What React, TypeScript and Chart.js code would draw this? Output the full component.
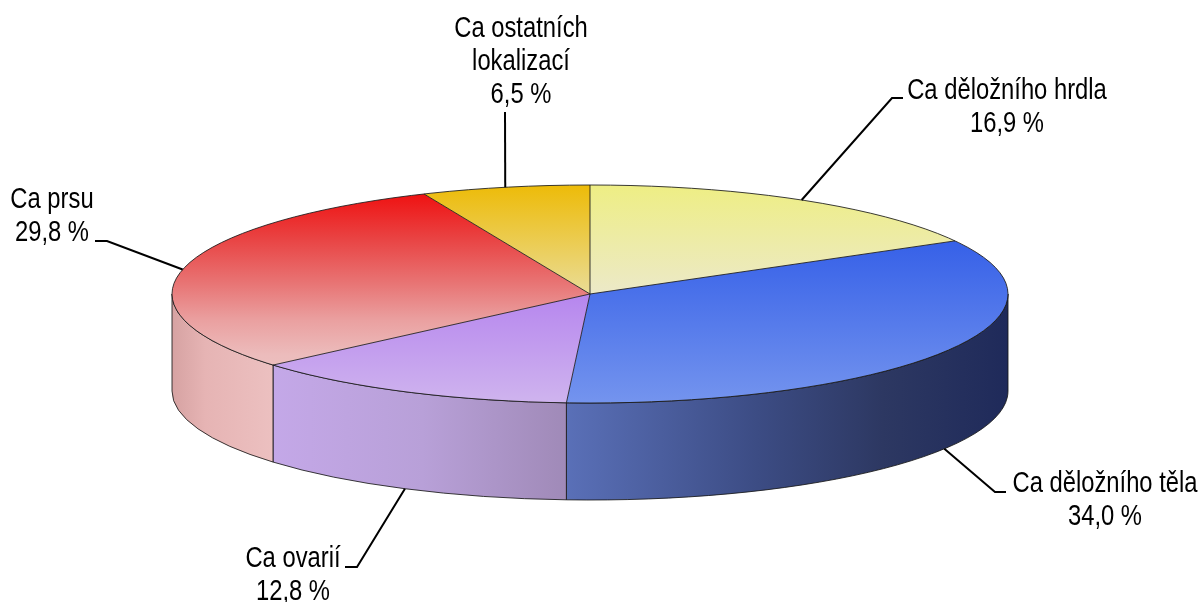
import React, { useEffect, useRef } from "react";
import { Chart, registerables } from "chart.js";

Chart.register(...registerables);

// ---- data ----
const categories = [
  "Ca děložního hrdla",
  "Ca děložního těla",
  "Ca ovarií",
  "Ca prsu",
  "Ca ostatních lokalizací",
];
const categoryLines = [
  ["Ca děložního hrdla"],
  ["Ca děložního těla"],
  ["Ca ovarií"],
  ["Ca prsu"],
  ["Ca ostatních", "lokalizací"],
];
const values = [16.9, 34.0, 12.8, 29.8, 6.5];

// ---- styles ----
const topStops: [number, string][][] = [
  [[0, "#eeee84"], [0.5, "#ece9c8"], [1, "#ece8d6"]],
  [[0, "#2a54e8"], [0.28, "#3862e8"], [1, "#7494ee"]],
  [[0, "#a468ee"], [0.5, "#b686ee"], [1, "#cfb4ee"]],
  [[0, "#f00808"], [0.25, "#e94444"], [0.45, "#e87474"], [0.62, "#eaa0a0"], [0.78, "#ecbcbc"], [1, "#ecc4c4"]],
  [[0, "#edbb08"], [0.5, "#eadc96"], [1, "#eae4b8"]],
];
const wallStops: [number, string][][] = [
  [[0, "#e8e4b0"], [1, "#a8a470"]],
  [[0, "#8090e0"], [0.47, "#5a70b8"], [0.7, "#3c4c84"], [0.85, "#2d3862"], [1, "#1f2a5a"]],
  [[0, "#c8aef0"], [0.12, "#c4a8e8"], [0.3, "#b8a0d8"], [0.47, "#a08ab8"], [1, "#806898"]],
  [[0, "#d6a2a2"], [0.04, "#e6b4b4"], [0.12, "#ecc0c0"], [1, "#ecc0c0"]],
  [[0, "#eadc96"], [1, "#b0a060"]],
];
const labelLayout = [
  { elbow: [892, 98], end: [903, 98], textX: 1007, baseline: 99 },
  { elbow: [995, 492], end: [1006, 492], textX: 1105, baseline: 492 },
  { elbow: [357, 567], end: [345, 567], textX: 293, baseline: 567 },
  { elbow: [107, 241], end: [95, 241], textX: 52, baseline: 208 },
  { elbow: null as number[] | null, end: [505, 112], textX: 521, baseline: 37 },
];

const CX = 590;
const CY = 294;
const RX = 418;
const RY = 109;
const DEPTH = 97;
const FONT_SIZE = 29;
const LINE_H = 33;
const OUTLINE = "rgba(25,25,25,0.85)";

function fmt(v: number) {
  return v.toFixed(1).replace(".", ",") + " %";
}

function narrowAvailable(ctx: CanvasRenderingContext2D) {
  ctx.font = '40px "Liberation Sans Narrow", monospace';
  const w1 = ctx.measureText("abcdefghijklm").width;
  ctx.font = "40px monospace";
  const w2 = ctx.measureText("abcdefghijklm").width;
  return Math.abs(w1 - w2) > 0.5;
}

const pie3d = {
  id: "pie3d",
  beforeDatasetsDraw(chart: any) {
    const ctx: CanvasRenderingContext2D = chart.ctx;
    const arcs = chart.getDatasetMeta(0).data;
    if (!arcs.length) return;
    const a0 = arcs[0];
    const R = a0.outerRadius;
    // walls
    ctx.save();
    ctx.lineWidth = 1;
    ctx.strokeStyle = OUTLINE;
    arcs.forEach((arc: any, i: number) => {
      const s = arc.startAngle;
      const e = arc.endAngle;
      const ranges = [
        [0, Math.PI],
        [2 * Math.PI, 3 * Math.PI],
      ];
      for (const [lo, hi] of ranges) {
        const a1 = Math.max(s, lo) - lo;
        const a2 = Math.min(e, hi) - lo;
        if (a2 <= a1) continue;
        const g = ctx.createLinearGradient(CX - RX, 0, CX + RX, 0);
        wallStops[i].forEach(([t, c]) => g.addColorStop(t, c));
        ctx.fillStyle = g;
        ctx.beginPath();
        ctx.ellipse(CX, CY, RX, RY, 0, a1, a2, false);
        ctx.lineTo(CX + RX * Math.cos(a2), CY + DEPTH + RY * Math.sin(a2));
        ctx.ellipse(CX, CY + DEPTH, RX, RY, 0, a2, a1, true);
        ctx.closePath();
        ctx.fill();
        ctx.stroke();
      }
    });
    ctx.restore();
    // transform for the top faces drawn by the library
    ctx.save();
    ctx.translate(CX, CY);
    ctx.scale(RX / R, RY / R);
    ctx.translate(-a0.x, -a0.y);
  },
  afterDatasetsDraw(chart: any) {
    const ctx: CanvasRenderingContext2D = chart.ctx;
    const arcs = chart.getDatasetMeta(0).data;
    if (!arcs.length) return;
    ctx.restore();
    ctx.save();
    // outlines of the top face
    ctx.lineWidth = 1;
    ctx.strokeStyle = OUTLINE;
    ctx.beginPath();
    ctx.ellipse(CX, CY, RX, RY, 0, 0, Math.PI * 2);
    ctx.stroke();
    arcs.forEach((arc: any) => {
      const a = arc.startAngle;
      ctx.beginPath();
      ctx.moveTo(CX, CY);
      ctx.lineTo(CX + RX * Math.cos(a), CY + RY * Math.sin(a));
      ctx.stroke();
    });
    // leader lines and labels
    const narrow = narrowAvailable(ctx);
    ctx.strokeStyle = "#000";
    ctx.lineWidth = 2;
    ctx.fillStyle = "#000";
    ctx.textAlign = "center";
    ctx.textBaseline = "alphabetic";
    arcs.forEach((arc: any, i: number) => {
      const m = (arc.startAngle + arc.endAngle) / 2;
      const sy = Math.sin(m);
      const x0 = CX + RX * Math.cos(m);
      const y0 = CY + RY * sy + (sy > 0 ? DEPTH : 0);
      const L = labelLayout[i];
      ctx.beginPath();
      ctx.moveTo(x0, y0);
      if (L.elbow) ctx.lineTo(L.elbow[0], L.elbow[1]);
      ctx.lineTo(L.end[0], L.end[1]);
      ctx.stroke();
      const lines = [...categoryLines[i], fmt(values[i])];
      lines.forEach((line, k) => {
        const ty = L.baseline + k * LINE_H;
        ctx.save();
        ctx.translate(L.textX, ty);
        if (narrow) {
          ctx.font = `${FONT_SIZE}px "Liberation Sans Narrow", "Arial Narrow", sans-serif`;
        } else {
          ctx.font = `${FONT_SIZE}px "Liberation Sans", Arial, sans-serif`;
          ctx.scale(0.82, 1);
        }
        ctx.fillText(line, 0, 0);
        ctx.restore();
      });
    });
    ctx.restore();
  },
};

export default function App() {
  const ref = useRef<HTMLCanvasElement | null>(null);
  useEffect(() => {
    document.body.style.margin = "0";
    const canvas = ref.current;
    if (!canvas) return;
    const chart = new Chart(canvas, {
      type: "pie",
      data: {
        labels: categories,
        datasets: [
          {
            data: values,
            borderWidth: 0,
            clip: false as any,
            backgroundColor: (c: any) => {
              const chart = c.chart;
              const area = chart.chartArea;
              const i = c.dataIndex ?? 0;
              if (!area) return topStops[i][0][1];
              const cy = (area.top + area.bottom) / 2;
              const R = Math.min(area.right - area.left, area.bottom - area.top) / 2;
              const g = chart.ctx.createLinearGradient(0, cy - R, 0, cy + R);
              topStops[i].forEach(([t, col]) => g.addColorStop(t, col));
              return g;
            },
          } as any,
        ],
      },
      options: {
        animation: false,
        responsive: false,
        events: [],
        layout: { padding: 0 },
        plugins: {
          legend: { display: false },
          tooltip: { enabled: false },
        },
      },
      plugins: [pie3d as any],
    });
    return () => chart.destroy();
  }, []);
  return (
    <div style={{ width: 1202, height: 602 }}>
      <canvas ref={ref} width={1202} height={602} />
    </div>
  );
}
